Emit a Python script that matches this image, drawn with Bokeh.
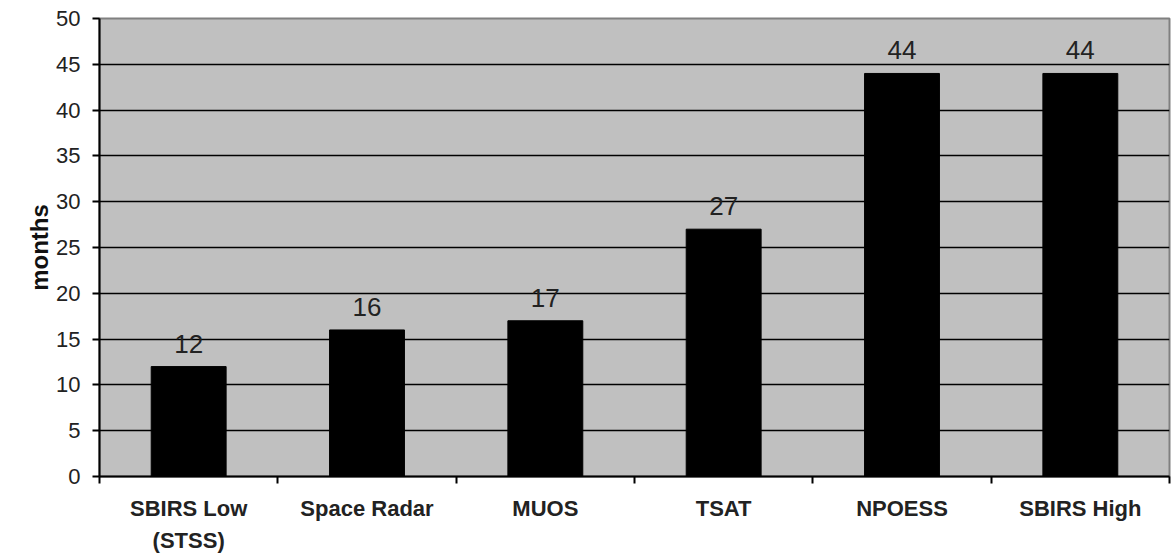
from bokeh.plotting import figure
from bokeh.models import ColumnDataSource, FixedTicker, Range1d, LabelSet
from bokeh.core.properties import value
from bokeh.embed import file_html
from bokeh.resources import INLINE

categories = ["SBIRS Low\n(STSS)", "Space Radar", "MUOS", "TSAT", "NPOESS", "SBIRS High"]
months = [12, 16, 17, 27, 44, 44]
y_ticks = [0, 5, 10, 15, 20, 25, 30, 35, 40, 45, 50]

xs = [i + 0.5 for i in range(len(categories))]
src = ColumnDataSource(dict(x=xs, top=months, label=[str(v) for v in months]))

p = figure(width=1176, height=556, output_backend="svg", toolbar_location=None,
           x_range=Range1d(0, len(categories)), y_range=Range1d(0, 50),
           min_border_left=99, min_border_right=7, min_border_top=18, min_border_bottom=80)
p.background_fill_color = "#c0c0c0"
p.border_fill_color = "white"
p.outline_line_color = "#808080"
p.outline_line_width = 2

p.vbar(x="x", top="top", width=0.42, bottom=0, source=src, fill_color="black", line_color="black")

labels = LabelSet(x="x", y="top", text="label", source=src, text_align="center",
                  y_offset=14, text_font=value("Liberation Sans"), text_font_size="26px",
                  text_color="#222222")
p.add_layout(labels)

p.xaxis.ticker = FixedTicker(ticks=xs, minor_ticks=list(range(len(categories) + 1)))
p.xaxis.major_label_overrides = {x: c for x, c in zip(xs, categories)}
p.xaxis.major_tick_line_color = None
p.xaxis.minor_tick_out = 7
p.xaxis.minor_tick_in = 0
p.xaxis.minor_tick_line_color = "black"
p.xaxis.minor_tick_line_width = 2
p.xaxis.major_label_standoff = 12
p.xaxis.major_label_text_font = "Liberation Sans"
p.xaxis.major_label_text_font_size = "22px"
p.xaxis.major_label_text_font_style = "bold"
p.xaxis.major_label_text_color = "#222222"
p.xaxis.major_label_text_line_height = 1.3
p.xaxis.axis_line_width = 2
p.xaxis.axis_line_color = "black"

p.yaxis.ticker = FixedTicker(ticks=y_ticks)
p.yaxis.minor_tick_line_color = None
p.yaxis.major_tick_out = 7
p.yaxis.major_tick_in = 0
p.yaxis.major_tick_line_width = 2
p.yaxis.axis_line_width = 2
p.yaxis.axis_line_color = "black"
p.yaxis.major_label_standoff = 12
p.yaxis.major_label_text_font = "Liberation Sans"
p.yaxis.major_label_text_font_size = "22px"
p.yaxis.major_label_text_color = "#222222"
p.yaxis.axis_label = "months"
p.yaxis.axis_label_text_font = "Liberation Sans"
p.yaxis.axis_label_text_font_size = "24px"
p.yaxis.axis_label_text_font_style = "bold"
p.yaxis.axis_label_text_color = "#111111"
p.yaxis.axis_label_standoff = 0

p.xgrid.grid_line_color = None
p.ygrid.ticker = FixedTicker(ticks=y_ticks)
p.ygrid.grid_line_color = "black"
p.ygrid.grid_line_width = 1.5

open("out.html", "w").write(file_html(p, INLINE))
